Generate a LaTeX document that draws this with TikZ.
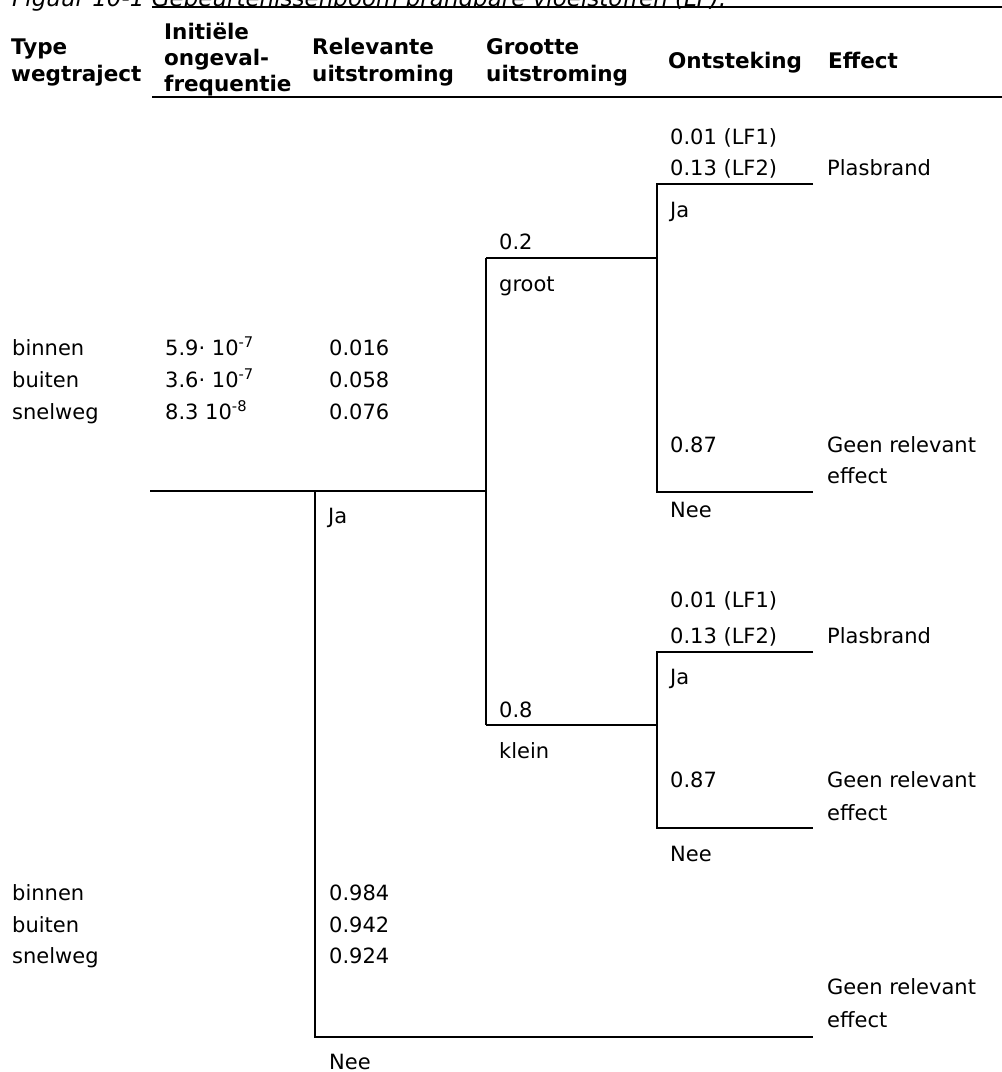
\documentclass[tikz,border=0pt]{standalone}
\usepackage{fontspec}
\setmainfont{DejaVu Sans}
\begin{document}
\begin{tikzpicture}[x=1pt,y=-1pt,
  txt/.style={anchor=base west, inner sep=0pt, font=\fontsize{21}{24}\selectfont},
  hdr/.style={anchor=base west, inner sep=0pt, font=\fontsize{21.5}{24}\selectfont\bfseries},
  ttl/.style={anchor=base west, inner sep=0pt, font=\fontsize{23}{26}\selectfont\itshape},
  rule/.style={line width=2pt},
  branch/.style={line width=2pt}]
\useasboundingbox (0,0) rectangle (1002,1072);

% caption (cut by the page edge) and table rules
\node[ttl] (title) at (12,6) {Figuur 10-1 Gebeurtenissenboom brandbare vloeistoffen (LF).};
\coordinate (topL) at (152,7);
\coordinate (topR) at (1002,7);
\coordinate (hdL) at (152,97);
\coordinate (hdR) at (1002,97);
\draw[rule] (topL) -- (topR);
\draw[rule] (hdL) -- (hdR);

% column headers
\node[hdr] (h1a) at (11,54) {Type};
\node[hdr] (h1b) at (11,81) {wegtraject};
\node[hdr] (h2a) at (164,39) {Initiële};
\node[hdr] (h2b) at (164,65) {ongeval-};
\node[hdr] (h2c) at (164,91) {frequentie};
\node[hdr] (h3a) at (312,54) {Relevante};
\node[hdr] (h3b) at (312,81) {uitstroming};
\node[hdr] (h4a) at (486,54) {Grootte};
\node[hdr] (h4b) at (486,81) {uitstroming};
\node[hdr] (h5) at (668,68) {Ontsteking};
\node[hdr] (h6) at (828,68) {Effect};

% tree junctions
\coordinate (r0) at (150,491);
\coordinate (r1) at (315,491);
\coordinate (r1b) at (315,1037);
\coordinate (r2) at (486,491);
\coordinate (e0) at (813,1037);
\coordinate (g0) at (486,258);
\coordinate (k0) at (486,725);
\coordinate (g1) at (657,258);
\coordinate (k1) at (657,725);
\coordinate (g1t) at (657,184);
\coordinate (g1b) at (657,492);
\coordinate (g2t) at (813,184);
\coordinate (g2b) at (813,492);
\coordinate (k1t) at (657,652);
\coordinate (k1b) at (657,828);
\coordinate (k2t) at (813,652);
\coordinate (k2b) at (813,828);

% branches
\draw[branch] (r0) -- (r1);
\draw[branch] (r1) -- (r2);
\draw[branch] (r1) -- (r1b) -- (e0);
\draw[branch] (g0) -- (k0);
\draw[branch] (g0) -- (g1);
\draw[branch] (k0) -- (k1);
\draw[branch] (g2t) -- (g1t) -- (g1b) -- (g2b);
\draw[branch] (k2t) -- (k1t) -- (k1b) -- (k2b);

% road types and frequencies
\node[txt] (t1) at (12,355) {binnen};
\node[txt] (t2) at (12,387) {buiten};
\node[txt] (t3) at (12,419) {snelweg};
\node[txt] (f1) at (165,355) {5.9· 10\textsuperscript{-7}};
\node[txt] (f2) at (165,387) {3.6· 10\textsuperscript{-7}};
\node[txt] (f3) at (165,419) {8.3 10\textsuperscript{-8}};
\node[txt] (p1) at (329,355) {0.016};
\node[txt] (p2) at (329,387) {0.058};
\node[txt] (p3) at (329,419) {0.076};
\node[txt] (rja) at (328,523) {Ja};

\node[txt] (t4) at (12,900) {binnen};
\node[txt] (t5) at (12,932) {buiten};
\node[txt] (t6) at (12,963) {snelweg};
\node[txt] (q1) at (329,900) {0.984};
\node[txt] (q2) at (329,932) {0.942};
\node[txt] (q3) at (329,963) {0.924};
\node[txt] (rnee) at (329,1069) {Nee};
\node[txt] (e0a) at (827,994) {Geen relevant};
\node[txt] (e0b) at (827,1027) {effect};

% size of release
\node[txt] (s1) at (499,249) {0.2};
\node[txt] (s1l) at (499,291) {groot};
\node[txt] (s2) at (499,717) {0.8};
\node[txt] (s2l) at (499,758) {klein};

% ignition, large release
\node[txt] (i1a) at (670,144) {0.01 (LF1)};
\node[txt] (i1b) at (670,175) {0.13 (LF2)};
\node[txt] (e1) at (827,175) {Plasbrand};
\node[txt] (i1ja) at (670,217) {Ja};
\node[txt] (i1n) at (670,452) {0.87};
\node[txt] (e2a) at (827,452) {Geen relevant};
\node[txt] (e2b) at (827,483) {effect};
\node[txt] (i1nee) at (670,517) {Nee};

% ignition, small release
\node[txt] (i2a) at (670,607) {0.01 (LF1)};
\node[txt] (i2b) at (670,643) {0.13 (LF2)};
\node[txt] (e3) at (827,643) {Plasbrand};
\node[txt] (i2ja) at (670,684) {Ja};
\node[txt] (i2n) at (670,787) {0.87};
\node[txt] (e4a) at (827,787) {Geen relevant};
\node[txt] (e4b) at (827,820) {effect};
\node[txt] (i2nee) at (670,861) {Nee};
\end{tikzpicture}
\end{document}
